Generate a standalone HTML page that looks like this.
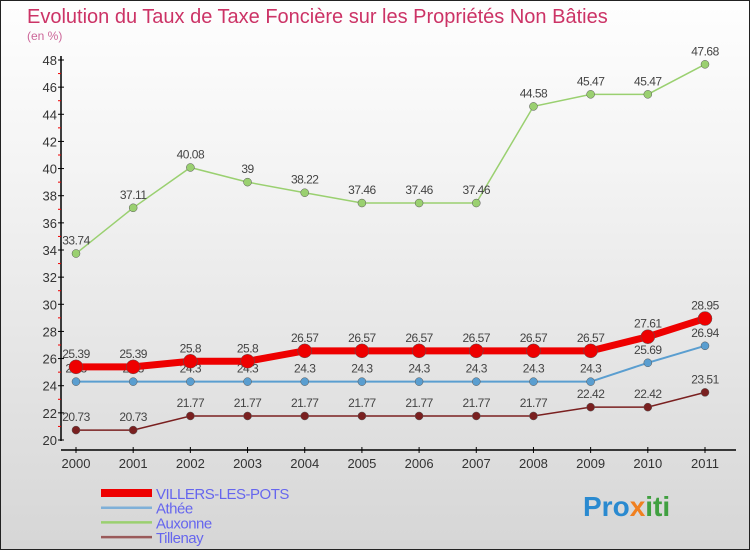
<!DOCTYPE html>
<html><head><meta charset="utf-8"><style>
html,body{margin:0;padding:0}
body{width:750px;height:550px;overflow:hidden;font-family:"Liberation Sans",sans-serif}
#wrap{position:relative;width:748px;height:548px;border:1px solid #222;background:linear-gradient(#fefefe,#f4f4f4 30%,#d6d6d6)}
</style></head><body>
<div id="wrap">
<svg id="chart" width="748" height="548" style="position:absolute;left:0;top:0">
<text x="26" y="22" font-size="20" fill="#cc3366">Evolution du Taux de Taxe Foncière sur les Propriétés Non Bâties</text>
<text x="26" y="39" font-size="12" fill="#cc6699">(en %)</text>
<g id="axes"></g><g id="series"></g><g id="legend"></g>
<text x="582" y="515" font-size="28" font-weight="bold" fill="#2a8ad0">Pro<tspan fill="#f08020">x</tspan><tspan fill="#40a040">iti</tspan></text>
</svg>
</div>
<script>
const years=[2000,2001,2002,2003,2004,2005,2006,2007,2008,2009,2010,2011];
const yTicks=[20,22,24,26,28,30,32,34,36,38,40,42,44,46,48];
const villers=[25.39,25.39,25.8,25.8,26.57,26.57,26.57,26.57,26.57,26.57,27.61,28.95];
const athee=[24.3,24.3,24.3,24.3,24.3,24.3,24.3,24.3,24.3,24.3,25.69,26.94];
const auxonne=[33.74,37.11,40.08,39,38.22,37.46,37.46,37.46,44.58,45.47,45.47,47.68];
const tillenay=[20.73,20.73,21.77,21.77,21.77,21.77,21.77,21.77,21.77,22.42,22.42,23.51];
const seriesNames=["VILLERS-LES-POTS","Athée","Auxonne","Tillenay"];
const NS="http://www.w3.org/2000/svg";
function xs(i){return 75+i*(704-75)/(years.length-1);}
function ys(v){return 439-(v-20)*(439-59)/28;}
function mk(tag,attrs,parent){const e=document.createElementNS(NS,tag);for(const k in attrs)e.setAttribute(k,attrs[k]);parent.appendChild(e);return e;}
const axes=document.getElementById('axes');
let a=mk('line',{x1:60,y1:55,x2:60,y2:440,stroke:'#000','stroke-width':1.5},axes);


a=mk('line',{x1:60,y1:449,x2:735,y2:449,stroke:'#000','stroke-width':1.5},axes);


yTicks.forEach(v=>{
 mk('line',{x1:57,y1:ys(v),x2:63,y2:ys(v),stroke:'#000'},axes);
 if(v<48) mk('line',{x1:57,y1:ys(v+1),x2:60,y2:ys(v+1),stroke:'#e00'},axes);
 const t=mk('text',{x:56,y:ys(v)+5,'font-size':13,fill:'#333','text-anchor':'end'},axes);t.textContent=v;
 
 
});
years.forEach((y,i)=>{
 mk('line',{x1:xs(i),y1:446,x2:xs(i),y2:452,stroke:'#000'},axes);
 const t=mk('text',{x:xs(i),y:467,'font-size':13,fill:'#333','text-anchor':'middle'},axes);t.textContent=y;
 
 
});
const sg=document.getElementById('series');
function draw(vals,color,lw,r,name){
 const g=mk('g',{},sg);
 
 
 mk('polyline',{points:vals.map((v,i)=>xs(i)+','+ys(v)).join(' '),fill:'none',stroke:color,'stroke-width':lw},g);
 vals.forEach((v,i)=>{
  const c=mk('circle',{cx:xs(i),cy:ys(v),r:r,fill:color,stroke:'#555','stroke-width':0.5},g);
  
  
  const t=mk('text',{x:xs(i),y:ys(v)-9,'font-size':12,fill:'#444','text-anchor':'middle','letter-spacing':'-0.5'},g);
  t.textContent=String(v);
  
  
 });
}
draw(tillenay,'#7a2020',1.5,4,'tillenay');
draw(athee,'#5a9ed0',2,4,'athee');
draw(auxonne,'#9ad070',1.5,4,'auxonne');
draw(villers,'#ee0000',7,7,'villers');
const lg=document.getElementById('legend');
const lcols=['#ee0000','#7fb0d8','#9ad070','#9a5a5a'];
const lw=[8,2.5,2.5,2.5];
seriesNames.forEach((n,i)=>{
 const y=492+i*14.7;
 const g=mk('g',{},lg);
 
 
 mk('line',{x1:100,y1:y,x2:151,y2:y,stroke:lcols[i],'stroke-width':lw[i]},g);
 const t=mk('text',{x:155,y:y+6,'font-size':15,fill:'#6666ee','letter-spacing':'-0.5'},g);t.textContent=n;
});
</script>
</body></html>
